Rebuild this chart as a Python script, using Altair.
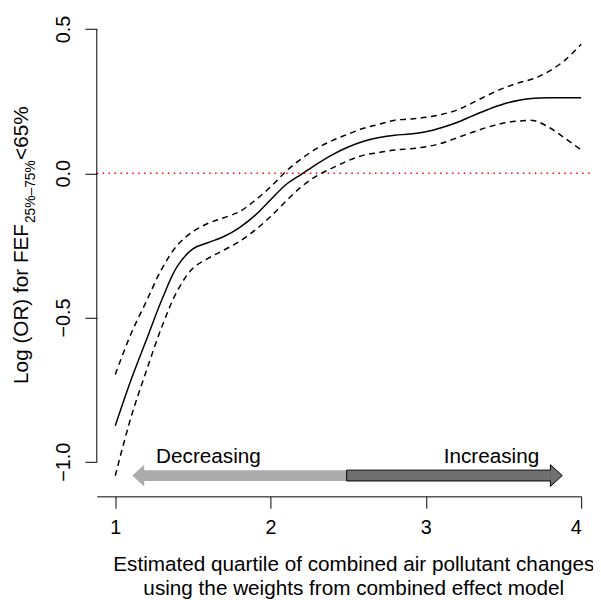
import altair as alt
import pandas as pd

FONT = "Liberation Sans, Arial, Helvetica, sans-serif"

# ---- data ----
x_grid = [1.0, 1.1, 1.2, 1.3, 1.4, 1.5, 1.6, 1.7, 1.8, 1.9,
          2.0, 2.1, 2.2, 2.3, 2.4, 2.5, 2.6, 2.7, 2.8, 2.9,
          3.0, 3.1, 3.2, 3.3, 3.4, 3.5, 3.6, 3.7, 3.8, 3.9, 4.0]
fit = [-0.875, -0.718, -0.578, -0.438, -0.322, -0.262, -0.240, -0.219, -0.188, -0.146,
       -0.092, -0.039, -0.003, 0.033, 0.065, 0.091, 0.111, 0.124, 0.132, 0.136,
       0.144, 0.158, 0.176, 0.199, 0.221, 0.240, 0.253, 0.260, 0.262, 0.262, 0.262]
upper = [-0.697, -0.558, -0.444, -0.331, -0.249, -0.202, -0.173, -0.154, -0.133, -0.094,
         -0.047, 0.007, 0.051, 0.087, 0.114, 0.136, 0.156, 0.170, 0.184, 0.188,
         0.194, 0.204, 0.219, 0.244, 0.271, 0.295, 0.314, 0.329, 0.356, 0.394, 0.447]
lower = [-1.048, -0.848, -0.685, -0.532, -0.407, -0.329, -0.294, -0.266, -0.236, -0.197,
         -0.150, -0.096, -0.046, -0.008, 0.019, 0.044, 0.063, 0.072, 0.081, 0.085,
         0.092, 0.104, 0.123, 0.142, 0.160, 0.174, 0.181, 0.182, 0.157, 0.120, 0.081]

x_ticks = [1, 2, 3, 4]
y_ticks = [-1.0, -0.5, 0.0, 0.5]
x_domain = [0.881, 4.0]
y_domain = [-1.1196, 0.559]
ref_line = {"x": [0.881], "x2": [4.075], "y": [0.0]}
y_axis_line = {"x": [0.881], "y": [-1.0], "y2": [0.5]}

arrow_y = -1.0475
arrow_half = 0.0188
light_body = {"x": [1.180], "x2": [2.49]}
light_head = {"x": [1.148]}
dark_body = {"x": [2.49], "x2": [3.808]}
dark_head = {"x": [3.840]}
arrow_labels = {"label": ["Decreasing", "Increasing"], "x": [1.600, 3.422], "y": [-0.985, -0.985]}

# ---- frames ----
df_fit = pd.DataFrame({"x": x_grid, "y": fit})
df_band = pd.concat([
    pd.DataFrame({"x": x_grid, "y": upper, "band": "upper"}),
    pd.DataFrame({"x": x_grid, "y": lower, "band": "lower"}),
])

xscale = alt.Scale(domain=x_domain, nice=False, zero=False)
yscale = alt.Scale(domain=y_domain, nice=False, zero=False)

x_axis = alt.Axis(values=x_ticks, format="d", tickSize=12, tickColor="black",
                  domainColor="black", labelFontSize=20, labelPadding=10,
                  labelColor="black", labelFont=FONT, grid=False,
                  title=["Estimated quartile of combined air pollutant changes",
                         "using the weights from combined effect model"],
                  titleFont=FONT, titleFontSize=21, titleFontWeight="normal",
                  titleColor="black", titleX=260, titleY=58, titleAlign="center",
                  titleBaseline="top", titleLineHeight=24)
y_axis = alt.Axis(values=y_ticks, format=".1f", tickSize=12, tickColor="black",
                  domain=False, labelFontSize=20, labelAngle=270, labelAlign="center",
                  labelBaseline="alphabetic", labelPadding=16, labelColor="black",
                  labelFont=FONT, grid=False, title=None)

X = lambda f="x": alt.X(f"{f}:Q", scale=xscale, axis=x_axis)
Y = lambda f="y": alt.Y(f"{f}:Q", scale=yscale, axis=y_axis)

line_fit = alt.Chart(df_fit).mark_line(color="black", strokeWidth=1.5, interpolate="catmull-rom").encode(
    x=X(), y=Y())
line_band = alt.Chart(df_band).mark_line(color="black", strokeWidth=1.5, strokeDash=[6, 4.5],
                                         interpolate="catmull-rom").encode(
    x=X(), y=Y(), detail="band:N")

ref = alt.Chart(pd.DataFrame(ref_line)).mark_rule(color="#ff0000", strokeWidth=1.5,
                                                  strokeDash=[1.5, 4.5]).encode(
    x=X(), x2="x2:Q", y=Y())
yline = alt.Chart(pd.DataFrame(y_axis_line)).mark_rule(color="black", strokeWidth=1).encode(
    x=X(), y=Y(), y2="y2:Q")

def body(d, fill, stroke=None):
    df = pd.DataFrame(d)
    df["y"] = arrow_y - arrow_half
    df["y2"] = arrow_y + arrow_half
    kw = dict(fill=fill, opacity=1)
    if stroke:
        kw.update(stroke=stroke, strokeWidth=1)
    return alt.Chart(df).mark_rect(**kw).encode(x=X(), x2="x2:Q", y=Y(), y2="y2:Q")

def head(d, shape, fill, stroke=None):
    df = pd.DataFrame(d)
    df["y"] = arrow_y
    kw = dict(shape=shape, size=484, filled=True, fill=fill, opacity=1)
    if stroke:
        kw.update(stroke=stroke, strokeWidth=1)
    else:
        kw.update(strokeWidth=0)
    return alt.Chart(df).mark_point(**kw).encode(x=X(), y=Y())

left_shape = "M 0.545 -1 L -0.545 0 L 0.545 1 Z"
right_shape = "M -0.545 -0.5 L -0.545 -1 L 0.545 0 L -0.545 1 L -0.545 0.5"

arrows = (body(light_body, "#ababab") + head(light_head, left_shape, "#ababab")
          + body(dark_body, "#707070", "black") + head(dark_head, right_shape, "#707070", "black"))

arrow_text = alt.Chart(pd.DataFrame(arrow_labels)).mark_text(
    font=FONT, fontSize=21, color="black", align="center", baseline="middle").encode(
    x=X(), y=Y(), text="label:N")

# y title pieces (rotated), with a subscript
ytitle_main = alt.Chart(pd.DataFrame({"t": ["Log (OR) for FEF"]})).mark_text(
    font=FONT, fontSize=21, angle=270, align="left", baseline="alphabetic", color="black").encode(
    x=alt.value(-70), y=alt.value(377), text="t:N")
ytitle_sub = alt.Chart(pd.DataFrame({"t": ["25%\u201375%"]})).mark_text(
    font=FONT, fontSize=14, angle=270, align="left", baseline="alphabetic", color="black").encode(
    x=alt.value(-63), y=alt.value(214), text="t:N")
ytitle_end = alt.Chart(pd.DataFrame({"t": ["<65%"]})).mark_text(
    font=FONT, fontSize=21, angle=270, align="left", baseline="alphabetic", color="black").encode(
    x=alt.value(-70), y=alt.value(150), text="t:N")

chart = alt.layer(
    line_fit, ref, line_band, yline, arrows, arrow_text,
    ytitle_main, ytitle_sub, ytitle_end,
).properties(
    width=491, height=491,
    autosize=alt.AutoSizeParams(type="none"),
    padding={"left": 90, "top": 0, "right": 12, "bottom": 100},
).configure(font=FONT).configure_view(stroke=None)

chart.save("out.html", embed_options={"renderer": "svg", "actions": False})
